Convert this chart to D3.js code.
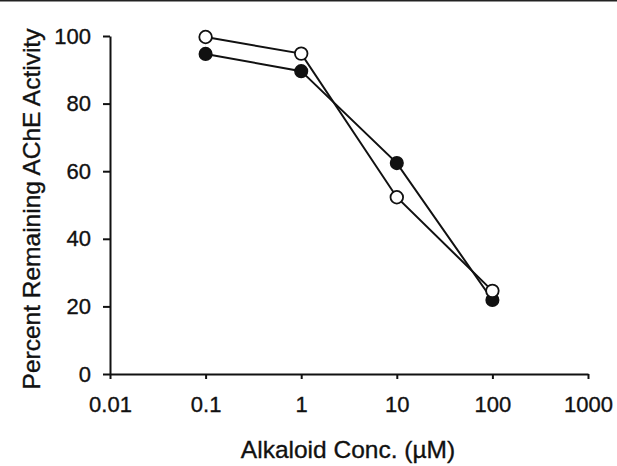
<!DOCTYPE html>
<html>
<head>
<meta charset="utf-8">
<script src="https://cdn.jsdelivr.net/npm/d3@7"></script>
<style>
  body { margin: 0; background: #fff; }
  text { font-family: "Liberation Sans", Arial, sans-serif; fill: #111; stroke: #111; stroke-width: 0.35px; }
</style>
</head>
<body>
<div id="chart-area"></div>
<script>

// Data
var conc = [0.1, 1, 10, 100];
var openVals = [99.7, 94.8, 52.3, 24.6];
var filledVals = [94.7, 89.6, 62.4, 21.9];
var xTicks = [0.01, 0.1, 1, 10, 100, 1000];
var yTicks = [0, 20, 40, 60, 80, 100];

var margin = {top: 36, right: 29, bottom: 92, left: 110};
var width = 617 - margin.left - margin.right,
    height = 466 - margin.top - margin.bottom;

var svg = d3.select("#chart-area").append("svg")
    .attr("width", 617)
    .attr("height", 466);

// scan edge line along the top
svg.append("rect")
    .attr("x", 0).attr("y", 0)
    .attr("width", 617).attr("height", 1.5)
    .attr("fill", "#222");

var g = svg.append("g")
    .attr("transform", "translate(" + margin.left + "," + margin.top + ")");

var x = d3.scaleLog()
    .domain([0.01, 1000])
    .range([0, width]);

var y = d3.scaleLinear()
    .domain([0, 100])
    .range([height, 0]);

var xAxis = g.append("g")
    .attr("transform", "translate(0," + height + ")")
    .call(d3.axisBottom(x)
        .tickValues(xTicks)
        .tickFormat(function(d) { return String(d); })
        .tickSizeInner(5)
        .tickSizeOuter(0)
        .tickPadding(17));

var yAxis = g.append("g")
    .call(d3.axisLeft(y)
        .tickValues(yTicks)
        .tickSizeInner(7)
        .tickSizeOuter(0)
        .tickPadding(12));

[xAxis, yAxis].forEach(function(a) {
    a.selectAll("path, line").attr("stroke", "#111").attr("stroke-width", 2);
    a.selectAll("text")
        .style("font-family", "'Liberation Sans', Arial, sans-serif")
        .style("font-size", "22px")
        .attr("fill", "#111");
});

var line = d3.line()
    .x(function(d) { return x(d[0]); })
    .y(function(d) { return y(d[1]); });

var openData = conc.map(function(c, i) { return [c, openVals[i]]; });
var filledData = conc.map(function(c, i) { return [c, filledVals[i]]; });

g.append("path")
    .datum(openData)
    .attr("d", line)
    .attr("fill", "none")
    .attr("stroke", "#111")
    .attr("stroke-width", 2);

g.append("path")
    .datum(filledData)
    .attr("d", line)
    .attr("fill", "none")
    .attr("stroke", "#111")
    .attr("stroke-width", 2);

g.selectAll(".filled-pt")
    .data(filledData)
    .enter()
    .append("circle")
    .attr("class", "filled-pt")
    .attr("cx", function(d) { return x(d[0]); })
    .attr("cy", function(d) { return y(d[1]); })
    .attr("r", 6.3)
    .attr("fill", "#111")
    .attr("stroke", "#111")
    .attr("stroke-width", 1.5);

g.selectAll(".open-pt")
    .data(openData)
    .enter()
    .append("circle")
    .attr("class", "open-pt")
    .attr("cx", function(d) { return x(d[0]); })
    .attr("cy", function(d) { return y(d[1]); })
    .attr("r", 6.3)
    .attr("fill", "#fff")
    .attr("stroke", "#111")
    .attr("stroke-width", 1.8);

// axis titles
svg.append("text")
    .attr("x", 348)
    .attr("y", 458)
    .attr("text-anchor", "middle")
    .style("font-size", "24.5px")
    .text("Alkaloid Conc. (\u00b5M)");

svg.append("text")
    .attr("transform", "translate(40,209) rotate(-90)")
    .attr("text-anchor", "middle")
    .style("font-size", "24.5px")
    .text("Percent Remaining AChE Activity");

</script>
</body>
</html>
